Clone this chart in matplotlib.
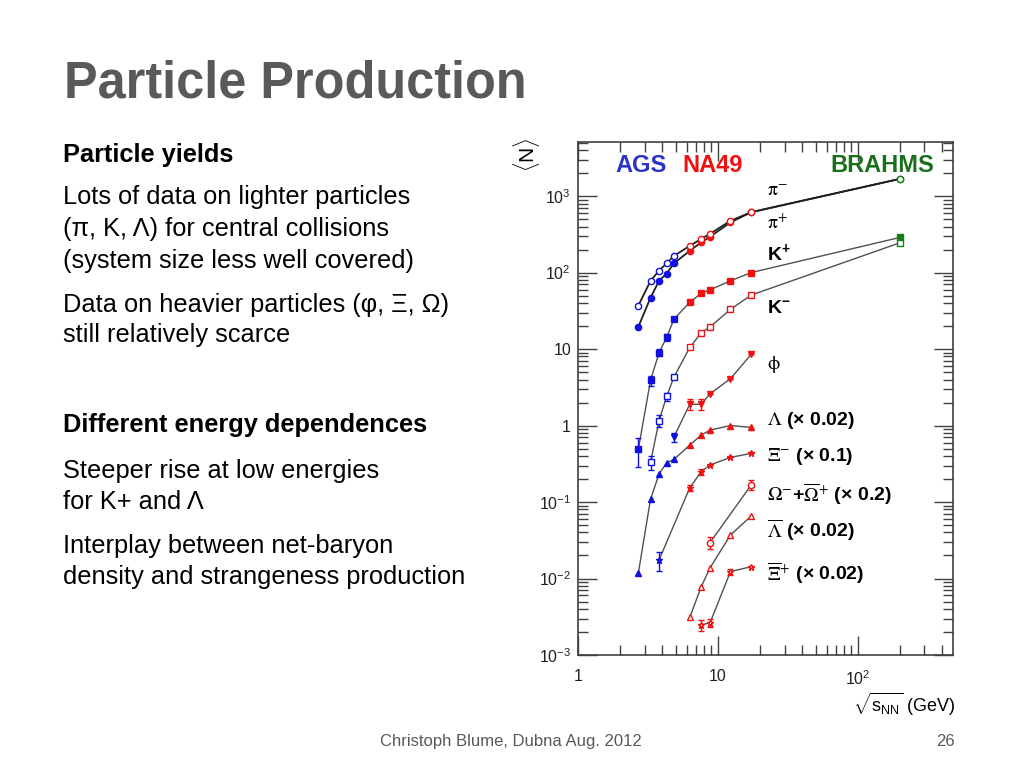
import matplotlib
matplotlib.use("Agg")
import matplotlib.pyplot as plt
import numpy as np

plt.rcParams['font.family'] = ['Liberation Sans', 'DejaVu Sans']
plt.rcParams['mathtext.fontset'] = 'custom'
plt.rcParams['mathtext.rm'] = 'Liberation Sans'
plt.rcParams['mathtext.it'] = 'Liberation Sans:italic'
plt.rcParams['mathtext.bf'] = 'Liberation Sans:bold'
plt.rcParams['mathtext.sf'] = 'Liberation Sans'

# ---------------- data ----------------
sqrt_s_ags = [2.7, 3.3, 3.8, 4.3, 4.85]
sqrt_s_na49 = [6.3, 7.6, 8.8, 12.3, 17.3]
sqrt_s_rhic = [200.0]

pim_ags = [37, 78, 106, 132, 165]
pim_na49 = [224, 275, 322, 475, 616]
pim_rhic = [1680]

pip_ags = [19.5, 47, 78, 97, 132]
pip_na49 = [193, 248, 295, 453, 616]
pip_rhic = [1680]

kp_ags = [0.49, 3.9, 9.0, 14.2, 24.6]
kp_ags_err = [0.2, 0.6, 1.0, 1.5, 0.0]
kp_na49 = [41, 53.5, 59.6, 78, 100]
kp_rhic = [288]

km_x_ags = [3.3, 3.8, 4.3, 4.85]
km_ags = [0.33, 1.16, 2.4, 4.3]
km_ags_err = [0.07, 0.2, 0.3, 0.0]
km_na49 = [10.5, 16.3, 19.5, 33, 50.8]
km_rhic = [245]

phi_x_ags = [4.85]
phi_ags = [0.71]
phi_ags_err = [0.1]
phi_na49 = [1.9, 1.9, 2.6, 4.1, 8.5]
phi_na49_err = [0.3, 0.3, 0.0, 0.0, 0.0]

lam_ags = [0.0117, 0.109, 0.232, 0.327, 0.36]
lam_na49 = [0.556, 0.75, 0.873, 1.0, 0.946]

xim_x_ags = [3.8]
xim_ags = [0.0175]
xim_ags_err = [0.005]
xim_na49 = [0.154, 0.249, 0.305, 0.384, 0.432]
xim_na49_err = [0.015, 0.02, 0.0, 0.0, 0.0]

om_x = [8.8, 17.3]
om_na49 = [0.0295, 0.167]
om_na49_err = [0.005, 0.025]

lbar_na49 = [0.00311, 0.0078, 0.0138, 0.037, 0.0656]

xibar_x = [7.6, 8.8, 12.3, 17.3]
xibar_na49 = [0.00247, 0.00264, 0.0123, 0.0143]
xibar_na49_err = [0.0004, 0.0003, 0.0012, 0.0]

x_ticks = [1, 10, 100]
x_ticklabels = ['1', '10', r'10$^{2}$']
y_ticks = [1e-3, 1e-2, 1e-1, 1, 10, 100, 1000]
y_ticklabels = [r'10$^{-3}$', r'10$^{-2}$', r'10$^{-1}$', '1', '10', r'10$^{2}$', r'10$^{3}$']

labels = [
    (1140, r'$\mathrm{\pi}^{-}$', 'normal', 'stix'),
    (444, r'$\mathrm{\pi}^{+}$', 'normal', 'stix'),
    (180, r'K$^{\mathbf{+}}$', 'bold', 'custom'),
    (34.4, r'K$^{\mathbf{-}}$', 'bold', 'custom'),
    (6.2, r'$\mathrm{\phi}$', 'normal', 'stix'),
    (1.156, r'$\Lambda$ (× 0.02)', 'bold', 'stix'),
    (0.392, r'$\Xi^{-}$ (× 0.1)', 'bold', 'stix'),
    (0.127, r'$\Omega^{-}$+$\overline{\Omega}^{+}$ (× 0.2)', 'bold', 'stix'),
    (0.043, r'$\overline{\Lambda}$ (× 0.02)', 'bold', 'stix'),
    (0.0117, r'$\overline{\Xi}^{+}$ (× 0.02)', 'bold', 'stix'),
]

# ---------------- figure ----------------
W, H = 1024, 768
fig = plt.figure(figsize=(W / 100, H / 100), dpi=100)
fig.patch.set_facecolor('white')

def ftext(x, y, s, **kw):
    return fig.text(x / W, 1 - y / H, s, **kw)

gray_title = '#595959'
ftext(64, 97, 'Particle Production', fontsize=36.4, fontweight='bold',
      color=gray_title, va='baseline', ha='left')

body = [
    (162, 'Particle yields', 'bold'),
    (204, 'Lots of data on lighter particles', 'normal'),
    (236, '(π, K, Λ) for central collisions', 'normal'),
    (268, '(system size less well covered)', 'normal'),
    (312, 'Data on heavier particles (φ, Ξ, Ω)', 'normal'),
    (342, 'still relatively scarce', 'normal'),
    (432, 'Different energy dependences', 'bold'),
    (478, 'Steeper rise at low energies', 'normal'),
    (509, 'for K+ and Λ', 'normal'),
    (553, 'Interplay between net-baryon', 'normal'),
    (584, 'density and strangeness production', 'normal'),
]
for y, s, w in body:
    ftext(63, y, s, fontsize=18.3, fontweight=w, color='black', va='baseline', ha='left')

ftext(511, 746, 'Christoph Blume, Dubna Aug. 2012', fontsize=12, color=gray_title,
      ha='center', va='baseline')
ftext(945, 746, '26', fontsize=12, color=gray_title, ha='center', va='baseline')

# axes
ax = fig.add_axes([578 / W, 1 - 655 / H, (953 - 578) / W, (655 - 142) / H])
ax.set_xscale('log')
ax.set_yscale('log')
ax.set_xlim(1, 480)
ax.set_ylim(1e-3, 5100)

blue = '#1010e0'
red = '#f01010'
green = '#108010'
lc = '#505050'
ms = 4.5

def series(xa, ya, xn, yn, xr=None, yr=None, marker='o', open_=False,
           ea=None, en=None, lw=1.0, lcol=lc):
    xs = list(xa) + list(xn) + (list(xr) if xr else [])
    ys = list(ya) + list(yn) + (list(yr) if yr else [])
    ax.plot(xs, ys, '-', color=lcol, lw=lw, zorder=2)
    for xx, yy, col, ee in [(xa, ya, blue, ea), (xn, yn, red, en), (xr, yr, green, None)]:
        if not xx:
            continue
        if ee is not None:
            ax.errorbar(xx, yy, yerr=ee, fmt='none', ecolor=col, elinewidth=1,
                        capsize=2, zorder=3)
        ax.plot(xx, yy, linestyle='none', marker=marker, ms=ms,
                mfc='white' if open_ else col, mec=col, mew=1.0, zorder=4)

series(sqrt_s_ags, pip_ags, sqrt_s_na49, pip_na49, sqrt_s_rhic, pip_rhic,
       marker='o', lw=1.3, lcol='#202020')
series(sqrt_s_ags, pim_ags, sqrt_s_na49, pim_na49, sqrt_s_rhic, pim_rhic,
       marker='o', open_=True, lw=1.3, lcol='#202020')
series(sqrt_s_ags, kp_ags, sqrt_s_na49, kp_na49, sqrt_s_rhic, kp_rhic,
       marker='s', ea=kp_ags_err)
series(km_x_ags, km_ags, sqrt_s_na49, km_na49, sqrt_s_rhic, km_rhic,
       marker='s', open_=True, ea=km_ags_err)
series(phi_x_ags, phi_ags, sqrt_s_na49, phi_na49, marker='v',
       ea=phi_ags_err, en=phi_na49_err)
series(sqrt_s_ags, lam_ags, sqrt_s_na49, lam_na49, marker='^')
series(xim_x_ags, xim_ags, sqrt_s_na49, xim_na49, marker='*',
       ea=xim_ags_err, en=xim_na49_err)
series([], [], om_x, om_na49, marker='o', open_=True, en=om_na49_err)
series([], [], sqrt_s_na49, lbar_na49, marker='^', open_=True)
series([], [], xibar_x, xibar_na49, marker='*', open_=True, en=xibar_na49_err)

for yv, s, w, mf in labels:
    t = ax.text(22.5, yv, s, fontsize=14, fontweight=w, color='black', ha='left',
                va='center', zorder=5)
    t.set_math_fontfamily(mf)

ax.text(0.168, 0.955, 'AGS', transform=ax.transAxes, fontsize=17, fontweight='bold',
        color='#2a35c8', ha='center', va='center')
ax.text(0.36, 0.955, 'NA49', transform=ax.transAxes, fontsize=17, fontweight='bold',
        color=red, ha='center', va='center')
ax.text(0.81, 0.955, 'BRAHMS', transform=ax.transAxes, fontsize=17, fontweight='bold',
        color='#1a701a', ha='center', va='center')

ax.set_xticks(x_ticks)
ax.set_xticklabels(x_ticklabels)
ax.set_yticks(y_ticks)
ax.set_yticklabels(y_ticklabels)
ax.tick_params(which='both', direction='in', top=True, right=True, labelsize=11.5,
               color='#404040', labelcolor='#202020')
ax.tick_params(which='major', length=14, width=1)
ax.tick_params(which='minor', length=7, width=1)
ax.tick_params(axis='x', pad=10)
ax.tick_params(axis='y', pad=5)
ax.yaxis.set_minor_locator(matplotlib.ticker.LogLocator(base=10, subs=np.arange(2, 10), numticks=20))
ax.yaxis.set_minor_formatter(matplotlib.ticker.NullFormatter())
ax.xaxis.set_minor_formatter(matplotlib.ticker.NullFormatter())
for sp in ax.spines.values():
    sp.set_color('#404040')
    sp.set_linewidth(1.2)

ftext(527, 155, r'$\langle$N$\rangle$', fontsize=15, rotation=90, ha='center', va='center')
ftext(955, 704, r'$\sqrt{\mathrm{s}_{\mathrm{NN}}}$ (GeV)', fontsize=13, ha='right', va='center')

fig.savefig('out.png', dpi=100, facecolor='white')
